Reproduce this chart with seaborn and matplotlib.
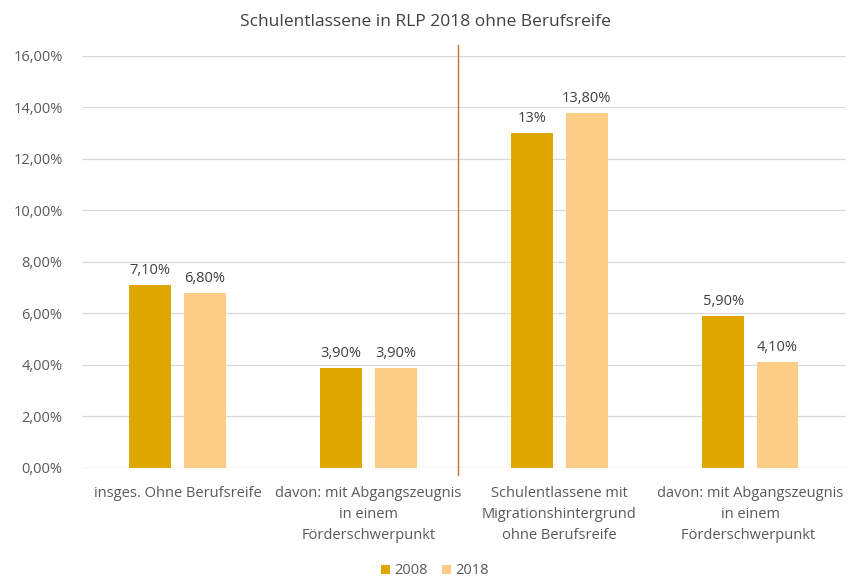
import matplotlib.pyplot as plt
import pandas as pd
import seaborn as sns

categories = [
    "insges. Ohne Berufsreife",
    "davon: mit Abgangszeugnis\nin einem\nFörderschwerpunkt",
    "Schulentlassene mit\nMigrationshintergrund\nohne Berufsreife",
    "davon: mit Abgangszeugnis\nin einem\nFörderschwerpunkt ",
]
values_2008 = [0.071, 0.039, 0.13, 0.059]
values_2018 = [0.068, 0.039, 0.138, 0.041]
labels_2008 = ["7,10%", "3,90%", "13%", "5,90%"]
labels_2018 = ["6,80%", "3,90%", "13,80%", "4,10%"]
years = ["2008", "2018"]
yticks = [0, 0.02, 0.04, 0.06, 0.08, 0.10, 0.12, 0.14, 0.16]

df = pd.DataFrame({
    "Kategorie": categories * 2,
    "Jahr": [years[0]] * 4 + [years[1]] * 4,
    "Wert": values_2008 + values_2018,
})

sns.set_style("white")
plt.rcParams["font.family"] = ["Open Sans", "DejaVu Sans"]

fig = plt.figure(figsize=(8.5, 5.77), dpi=100)
ax = fig.add_axes([0.0965, 0.189, 0.8985, 0.714])

sns.barplot(data=df, x="Kategorie", y="Wert", hue="Jahr",
            palette=["#DFA600", "#FDCD86"], width=0.57, gap=0.23,
            saturation=1, linewidth=0, ax=ax)

for container, labels in zip(ax.containers, [labels_2008, labels_2018]):
    ax.bar_label(container, labels=labels, padding=5, fontsize=10.5, color="#404040")

ax.set_ylim(0, 0.16)
ax.set_yticks(yticks)
ax.set_yticklabels([f"{t * 100:.2f}%".replace(".", ",") for t in yticks])
ax.yaxis.grid(True, color="#d9d9d9", linewidth=0.9)
ax.set_axisbelow(True)
for s in ax.spines.values():
    s.set_visible(False)
ax.axhline(0, color="#d9d9d9", linewidth=0.9)
ax.tick_params(axis="both", length=0, labelsize=10.5, colors="#595959")
ax.tick_params(axis="y", pad=14)
ax.tick_params(axis="x", pad=13)
for lbl in ax.get_xticklabels():
    lbl.set_linespacing(1.55)
ax.set_xlabel("")
ax.set_ylabel("")

# separator line between the two blocks
ax.axvline(1.47, ymin=-0.017, ymax=1.027, color="#C0703C", linewidth=1, clip_on=False)

fig.suptitle("Schulentlassene in RLP 2018 ohne Berufsreife", fontsize=12.5,
             color="#404040", x=0.5, y=0.975)

handles, _ = ax.get_legend_handles_labels()
ax.legend(handles, years, loc="lower center", bbox_to_anchor=(0.462, -0.3),
          ncol=2, frameon=False, fontsize=10.5, handlelength=0.6, handleheight=0.6,
          handletextpad=0.3, columnspacing=1.0, labelcolor="#595959")

fig.savefig("out.png", dpi=100)
